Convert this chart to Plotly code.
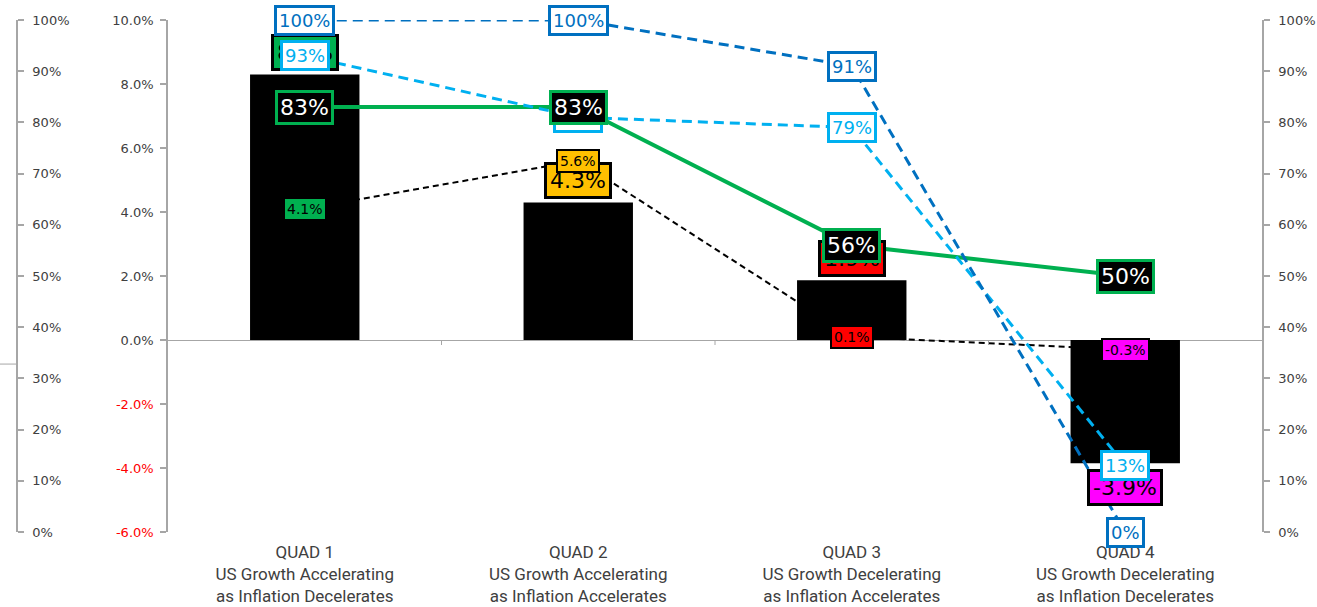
import plotly.graph_objects as go

categories = [
    "QUAD 1<br>US Growth Accelerating<br>as Inflation Decelerates",
    "QUAD 2<br>US Growth Accelerating<br>as Inflation Accelerates",
    "QUAD 3<br>US Growth Decelerating<br>as Inflation Accelerates",
    "QUAD 4<br>US Growth Decelerating<br>as Inflation Decelerates",
]
bar_values = [8.3, 4.3, 1.87, -3.85]
bar_labels = ["8.3%", "4.3%", "1.9%", "-3.9%"]
quad_colors = ["#00B050", "#FFC000", "#FF0000", "#FF00FF"]
small_values = [4.1, 5.6, 0.1, -0.3]
small_labels = ["4.1%", "5.6%", "0.1%", "-0.3%"]
green_values = [83, 83, 56, 50]
dark_blue_values = [100, 100, 91, 0]
light_blue_values = [93, 81, 79, 13]
mid_ticks = [-6, -4, -2, 0, 2, 4, 6, 8, 10]
pct_ticks = [0, 10, 20, 30, 40, 50, 60, 70, 80, 90, 100]

GREEN = "#00B050"
DBLUE = "#0070C0"
LBLUE = "#00B0F0"
AXIS = "#A6A6A6"
TXT = "#404040"
TICKFONT = dict(family="DejaVu Sans", size=13, color=TXT)

W, H = 1317, 607
ML, MR, MT, MB = 17, 55, 20, 75
paper_w = W - ML - MR
plot_left_px = 168
x_dom0 = (plot_left_px - ML) / paper_w

mid_text = []
for v in mid_ticks:
    s = f"{v:.1f}%"
    if v < 0:
        s = f'<span style="color:#FF0000">{s}</span>'
    mid_text.append(s)
pct_text = [f"{v}%" for v in pct_ticks]

fig = go.Figure()
fig.add_trace(go.Bar(x=categories, y=bar_values, marker=dict(color="black", line=dict(width=0)),
                     width=0.4, yaxis="y", showlegend=False, hoverinfo="skip"))
fig.add_trace(go.Scatter(x=categories, y=small_values, mode="lines", yaxis="y",
                         line=dict(color="black", width=2, dash="6px,4px"),
                         showlegend=False, hoverinfo="skip"))
fig.add_trace(go.Scatter(x=categories, y=green_values, mode="lines", yaxis="y2",
                         line=dict(color=GREEN, width=4), showlegend=False, hoverinfo="skip"))
fig.add_trace(go.Scatter(x=categories, y=light_blue_values, mode="lines", yaxis="y2",
                         line=dict(color=LBLUE, width=3, dash="10px,6px"),
                         showlegend=False, hoverinfo="skip"))
fig.add_trace(go.Scatter(x=categories, y=dark_blue_values, mode="lines", yaxis="y2",
                         line=dict(color=DBLUE, width=3, dash="10px,6px"),
                         showlegend=False, hoverinfo="skip"))
fig.add_trace(go.Scatter(x=categories, y=[None] * len(categories), mode="lines", yaxis="y3",
                         showlegend=False, hoverinfo="skip"))

ann = []
FONT = "DejaVu Sans"
for i, c in enumerate(categories):
    v = bar_values[i]
    ann.append(dict(x=c, y=v, xref="x", yref="y", yshift=22 if v >= 0 else -24,
                    text=bar_labels[i], showarrow=False, bgcolor=quad_colors[i],
                    bordercolor="black", borderwidth=3, borderpad=3,
                    font=dict(family=FONT, size=22, color="black")))
for i, c in enumerate(categories):
    ann.append(dict(x=c, y=small_values[i], xref="x", yref="y",
                    text=small_labels[i], showarrow=False, bgcolor=quad_colors[i],
                    bordercolor="black", borderwidth=2, borderpad=2,
                    font=dict(family=FONT, size=14, color="black")))
for i, c in enumerate(categories):
    ann.append(dict(x=c, y=light_blue_values[i], xref="x", yref="y2",
                    text=f"{light_blue_values[i]}%", showarrow=False, bgcolor="white",
                    bordercolor=LBLUE, borderwidth=3, borderpad=2,
                    font=dict(family=FONT, size=18, color=LBLUE)))
for i, c in enumerate(categories):
    ann.append(dict(x=c, y=green_values[i], xref="x", yref="y2",
                    text=f"{green_values[i]}%", showarrow=False, bgcolor="black",
                    bordercolor=GREEN, borderwidth=3, borderpad=2,
                    font=dict(family=FONT, size=22, color="white")))
for i, c in enumerate(categories):
    ann.append(dict(x=c, y=dark_blue_values[i], xref="x", yref="y2",
                    text=f"{dark_blue_values[i]}%", showarrow=False, bgcolor="white",
                    bordercolor=DBLUE, borderwidth=3, borderpad=2,
                    font=dict(family=FONT, size=18, color=DBLUE)))

shapes = []
for i in range(len(categories) - 1):
    shapes.append(dict(type="line", xref="x", yref="y", x0=i + 0.5, x1=i + 0.5,
                       ysizemode="pixel", yanchor=0, y0=0, y1=-5,
                       line=dict(color=AXIS, width=1)))
shapes.append(dict(type="line", xref="paper", yref="paper", x0=-ML / paper_w, x1=0,
                   y0=0.328, y1=0.328, line=dict(color=AXIS, width=1)))

fig.update_layout(
    width=W, height=H,
    margin=dict(l=ML, r=MR, t=MT, b=MB, autoexpand=False),
    paper_bgcolor="white", plot_bgcolor="white",
    hovermode=False, showlegend=False,
    xaxis=dict(domain=[x_dom0, 1], type="category", showline=False, ticks="",
               showgrid=False, zeroline=False, automargin=False, ticklabelstandoff=8,
               tickfont=dict(family="Roboto", size=17, color=TXT)),
    yaxis=dict(range=[-6, 10], anchor="x", side="left", showline=True, linecolor=AXIS, linewidth=1.5,
               ticks="outside", ticklen=6, tickcolor=AXIS, tickwidth=1.5,
               tickvals=mid_ticks, ticktext=mid_text, tickfont=TICKFONT, automargin=False,
               showgrid=False, zeroline=True, zerolinecolor=AXIS, zerolinewidth=1,
               ticklabelstandoff=4),
    yaxis2=dict(range=[0, 100], overlaying="y", anchor="x", side="right", showline=True,
                linecolor=AXIS, linewidth=1.5, ticks="outside", ticklen=6, tickcolor=AXIS,
                tickwidth=1.5, tickvals=pct_ticks, ticktext=pct_text, tickfont=TICKFONT,
                showgrid=False, zeroline=False, ticklabelstandoff=6, automargin=False),
    yaxis3=dict(range=[0, 100], overlaying="y", anchor="free", position=0, side="right",
                showline=True, linecolor=AXIS, linewidth=1.5, ticks="outside", ticklen=6,
                tickcolor=AXIS, tickwidth=1.5, tickvals=pct_ticks, ticktext=pct_text,
                tickfont=TICKFONT, showgrid=False, zeroline=False, ticklabelstandoff=6,
                automargin=False),
    annotations=ann,
    shapes=shapes,
)

fig.write_html("out.html")
